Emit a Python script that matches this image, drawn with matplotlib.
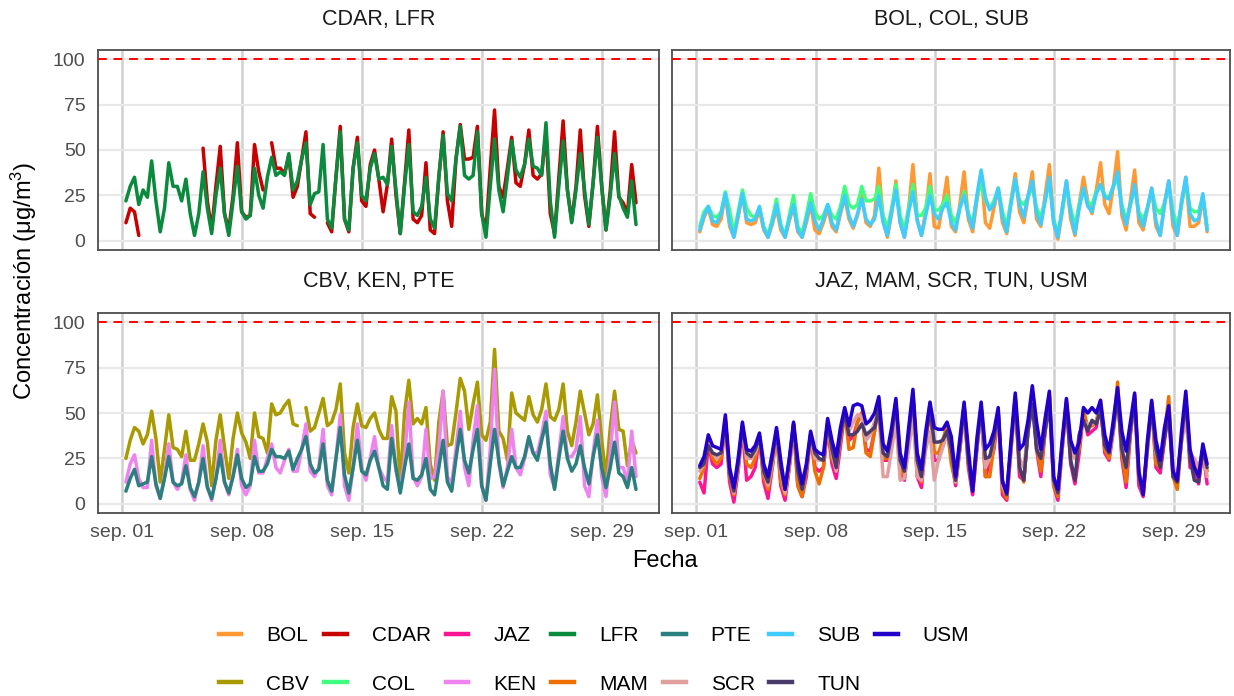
import numpy as np
import pandas as pd
import matplotlib
matplotlib.use("Agg")
import matplotlib.pyplot as plt
from matplotlib.lines import Line2D

plt.rcParams["font.family"] = ["Liberation Sans", "DejaVu Sans"]
plt.rcParams["mathtext.fontset"] = "custom"
plt.rcParams["mathtext.rm"] = "Liberation Sans"
plt.rcParams["mathtext.it"] = "Liberation Sans:italic"

nan = np.nan

# one row per day (sep 01 .. sep 30), values at 05h, 11h, 17h, 23h
CDAR = [[10, 18, 16, 3], [nan, nan, nan, nan], [nan, nan, nan, nan], [nan, nan, nan, nan],
        [nan, nan, 51, 22], [6, 30, 52, 15], [6, 25, 54, 16], [13, 14, 53, 38],
        [28, nan, 54, 40], [40, 37, 47, 24], [30, 45, 60, 15], [13, nan, nan, 10],
        [5, 35, 63, 12], [5, 40, 57, 22], [19, 42, 50, 34], [16, 31, 56, 25],
        [4, 32, 61, 12], [10, 14, 43, 6], [4, 35, 60, 22], [8, 45, 64, 45],
        [45, 46, 63, 15], [6, 40, 72, 30], [24, 40, 57, 32], [30, 42, 61, 36],
        [34, 37, 60, 15], [4, 35, 66, 28], [11, 30, 61, 25], [8, 32, 63, 30],
        [6, 28, 60, 24], [21, 15, 42, 21]]
LFR = [[22, 30, 35, 20], [28, 24, 44, 22], [5, 18, 43, 30], [30, 22, 34, 15],
       [3, 15, 38, 18], [4, 25, 40, 15], [3, 22, 41, 16], [12, 14, 40, 25],
       [18, 35, 46, 36], [38, 36, 48, 28], [33, 45, 54, 20], [26, 27, 53, 12],
       [7, 35, 60, 12], [6, 40, 54, 25], [22, 40, 48, 34], [35, 31, 52, 28],
       [4, 30, 53, 16], [14, 19, 35, 12], [7, 35, 58, 26], [22, 45, 63, 36],
       [34, 36, 60, 15], [2, 30, 56, 28], [16, 35, 55, 39], [35, 42, 56, 41],
       [40, 36, 65, 22], [2, 30, 55, 28], [10, 28, 48, 28], [9, 32, 57, 30],
       [6, 25, 48, 25], [18, 13, 33, 9]]
BOL = [[5, 13, 18, 9], [8, 12, 26, 8], [2, 13, 26, 10], [9, 10, 17, 6],
       [2, 9, 18, 6], [2, 11, 19, 5], [2, 10, 20, 6], [4, 10, 18, 8],
       [5, 15, 24, 12], [7, 14, 25, 10], [8, 14, 40, 12], [2, 15, 33, 10],
       [2, 18, 42, 12], [3, 16, 37, 8], [7, 20, 35, 8], [5, 20, 38, 12],
       [5, 22, 38, 10], [7, 18, 29, 10], [4, 22, 37, 16], [10, 24, 38, 12],
       [8, 25, 42, 10], [1, 16, 33, 12], [3, 20, 35, 22], [15, 28, 43, 20],
       [15, 30, 49, 14], [6, 22, 39, 10], [6, 18, 29, 8], [3, 20, 33, 8],
       [3, 20, 35, 8], [8, 10, 24, 5]]
COL = [[8, 16, 19, 14], [13, 16, 27, 17], [4, 16, 28, 18], [14, 13, 18, 8],
       [3, 12, 23, 9], [3, 14, 25, 8], [4, 14, 26, 16], [12, 14, 20, 14],
       [12, 19, 30, 20], [18, 20, 30, 22], [22, 23, 30, 14], [7, 18, 31, 14],
       [6, 18, 31, 14], [14, 18, 30, 17], [17, 20, 25, 14], [10, 18, 27, 15],
       [10, 24, 32, 22], [18, 22, 29, 16], [8, 22, 34, 22], [20, 24, 30, 18],
       [13, 22, 33, 12], [4, 16, 30, 18], [8, 20, 29, 21], [20, 27, 31, 25],
       [24, 30, 34, 20], [11, 20, 29, 16], [12, 18, 28, 18], [15, 21, 31, 16],
       [8, 20, 32, 18], [16, 16, 25, 8]]
SUB = [[6, 14, 19, 11], [10, 15, 26, 10], [2, 14, 26, 12], [11, 12, 19, 7],
       [2, 10, 20, 8], [2, 12, 20, 6], [2, 12, 21, 11], [6, 12, 20, 10],
       [6, 16, 25, 14], [8, 15, 23, 12], [9, 12, 25, 10], [3, 16, 28, 10],
       [2, 16, 27, 11], [3, 14, 25, 15], [12, 18, 21, 10], [6, 18, 25, 14],
       [7, 25, 39, 24], [17, 20, 29, 13], [5, 20, 34, 20], [13, 25, 33, 15],
       [9, 22, 35, 10], [2, 18, 33, 15], [4, 18, 29, 19], [16, 26, 31, 24],
       [23, 30, 38, 17], [9, 20, 31, 14], [8, 18, 29, 11], [3, 20, 33, 12],
       [3, 22, 35, 15], [11, 12, 26, 6]]
CBV = [[25, 35, 42, 40], [33, 38, 51, 36], [12, 30, 49, 31], [30, 26, 40, 24],
       [24, 33, 44, 34], [10, 35, 49, 31], [14, 36, 50, 39], [34, 25, 50, 37],
       [36, 28, 55, 49], [50, 54, 57, 44], [43, nan, 53, 40], [42, 50, 58, 43],
       [45, 52, 66, 28], [17, 42, 55, 43], [42, 47, 50, 41], [36, 36, 59, 51],
       [11, 50, 68, 44], [47, 44, 53, 22], [13, 45, 62, 32], [33, 50, 69, 62],
       [41, 55, 67, 38], [35, 45, 85, 40], [36, 24, 61, 50], [48, 46, 59, 49],
       [45, 52, 66, 48], [46, 52, 66, 40], [32, 45, 62, 50], [38, 44, 60, 35],
       [15, 42, 62, 41], [40, 21, 35, 28]]
KEN = [[12, 22, 27, 14], [9, 9, 35, 10], [3, 15, 33, 12], [8, 12, 27, 8],
       [2, 12, 32, 10], [2, 14, 35, 12], [5, 16, 30, 10], [5, 10, 35, 17],
       [17, 25, 33, 20], [17, 24, 30, 18], [18, 30, 44, 18], [15, 20, 41, 10],
       [5, 25, 49, 10], [2, 20, 44, 20], [13, 25, 37, 20], [15, 12, 43, 18],
       [8, 25, 56, 15], [10, 15, 41, 14], [15, 30, 62, 15], [11, 30, 51, 20],
       [10, 35, 54, 10], [2, 30, 74, 22], [9, 20, 41, 20], [16, 25, 35, 28],
       [28, 38, 51, 16], [9, 28, 48, 26], [26, 30, 48, 10], [4, 28, 46, 15],
       [4, 28, 56, 20], [20, 12, 40, 15]]
PTE = [[7, 14, 19, 10], [11, 12, 26, 11], [3, 14, 26, 12], [10, 11, 21, 9],
       [4, 12, 25, 9], [3, 14, 27, 12], [6, 15, 27, 14], [9, 11, 26, 18],
       [18, 22, 30, 26], [26, 25, 29, 19], [25, 30, 37, 22], [17, 19, 33, 13],
       [7, 25, 42, 16], [6, 20, 35, 18], [16, 24, 29, 20], [10, 8, 36, 20],
       [6, 20, 33, 14], [13, 16, 25, 8], [5, 20, 35, 12], [7, 25, 41, 24],
       [17, 30, 41, 10], [2, 22, 41, 24], [10, 18, 26, 20], [20, 26, 37, 28],
       [24, 35, 45, 22], [8, 25, 40, 25], [18, 22, 32, 20], [11, 26, 38, 20],
       [9, 20, 34, 17], [15, 9, 20, 8]]
JAZ = [[12, 6, 33, 22], [20, 22, 46, 12], [1, 18, 42, 13], [15, 20, 37, 12],
       [3, 20, 40, 10], [2, 20, 43, 10], [4, 15, 38, 20], [18, 20, 42, 22],
       [14, 32, 50, 35], [37, 45, 50, 30], [29, 40, 56, 24], [24, 35, 55, 18],
       [13, 35, 60, 15], [9, 35, 53, 24], [24, 35, 42, 25], [10, 30, 53, 20],
       [5, 30, 52, 15], [22, 30, 50, 5], [2, 30, 58, 15], [13, 40, 60, 30],
       [15, 40, 60, 10], [2, 30, 55, 22], [11, 28, 50, 38], [40, 42, 55, 28],
       [24, 40, 62, 25], [9, 38, 58, 10], [4, 30, 55, 20], [17, 35, 52, 15],
       [13, 35, 58, 20], [20, 11, 30, 11]]
MAM = [[14, 20, 35, 25], [22, 25, 47, 15], [5, 20, 43, 22], [20, 25, 37, 15],
       [8, 20, 40, 12], [5, 20, 44, 10], [4, 18, 38, 18], [11, 20, 44, 25],
       [20, 35, 51, 30], [31, 45, 50, 28], [26, 40, 57, 25], [25, 35, 56, 20],
       [15, 38, 61, 20], [12, 36, 55, 28], [28, 35, 43, 22], [12, 30, 54, 22],
       [8, 32, 53, 15], [15, 32, 51, 8], [3, 30, 59, 20], [12, 42, 62, 32],
       [18, 40, 61, 10], [4, 32, 57, 30], [25, 30, 52, 42], [43, 45, 57, 30],
       [25, 42, 67, 28], [12, 40, 60, 15], [5, 32, 56, 22], [20, 38, 59, 15],
       [8, 35, 58, 25], [22, 18, 30, 18]]
SCR = [[18, 22, 33, 28], [25, 28, 45, 18], [6, 20, 42, 25], [25, 28, 36, 18],
       [10, 22, 40, 18], [6, 22, 43, 18], [8, 20, 38, 25], [24, 24, 44, 28],
       [18, 38, 50, 40], [45, 49, 48, 35], [38, 45, 50, 15], [15, 30, 45, 13],
       [14, 30, 48, 15], [13, 30, 40, 13], [24, 31, 38, 30], [12, 30, 50, 25],
       [8, 32, 50, 20], [25, 35, 50, 10], [5, 30, 55, 25], [20, 40, 58, 35],
       [25, 40, 58, 12], [6, 30, 54, 30], [25, 38, 45, 44], [44, 45, 52, 32],
       [28, 40, 60, 30], [20, 40, 56, 15], [10, 30, 52, 28], [22, 38, 50, 20],
       [15, 35, 45, 28], [25, 20, 28, 15]]
TUN = [[20, 22, 32, 28], [27, 28, 46, 17], [7, 22, 43, 28], [26, 30, 37, 18],
       [12, 25, 40, 20], [8, 24, 44, 18], [8, 20, 38, 28], [25, 24, 45, 30],
       [20, 38, 50, 38], [38, 40, 44, 38], [40, 42, 52, 28], [26, 38, 56, 24],
       [18, 38, 60, 24], [15, 36, 53, 34], [34, 35, 40, 30], [13, 32, 54, 24],
       [7, 32, 53, 25], [26, 36, 50, 13], [5, 32, 58, 20], [13, 40, 55, 30],
       [25, 40, 55, 13], [6, 32, 55, 24], [13, 38, 46, 40], [46, 44, 52, 32],
       [28, 42, 59, 30], [20, 40, 58, 15], [6, 32, 53, 30], [20, 36, 50, 15],
       [12, 36, 58, 25], [13, 12, 30, 20]]
USM = [[21, 26, 38, 32], [31, 30, 49, 20], [9, 25, 45, 30], [29, 32, 39, 22],
       [15, 28, 42, 24], [8, 25, 45, 24], [11, 22, 40, 30], [28, 27, 47, 35],
       [26, 42, 53, 43], [54, 55, 54, 44], [46, 50, 59, 33], [29, 42, 58, 28],
       [20, 42, 63, 28], [19, 40, 56, 42], [41, 41, 45, 37], [15, 36, 56, 30],
       [7, 36, 56, 30], [33, 40, 53, 12], [6, 35, 61, 30], [33, 46, 65, 45],
       [30, 47, 62, 15], [8, 35, 58, 35], [28, 34, 53, 50], [53, 50, 57, 38],
       [29, 46, 64, 40], [29, 45, 61, 18], [5, 35, 57, 35], [24, 42, 54, 18],
       [13, 40, 62, 30], [20, 15, 33, 22]]

series = {"BOL": BOL, "CBV": CBV, "CDAR": CDAR, "COL": COL, "JAZ": JAZ, "KEN": KEN,
          "LFR": LFR, "MAM": MAM, "PTE": PTE, "SCR": SCR, "SUB": SUB, "TUN": TUN,
          "USM": USM}
colors = {"BOL": "#FF9933", "CBV": "#A89A00", "CDAR": "#C80000", "COL": "#40FF80",
          "JAZ": "#FF1493", "KEN": "#EE82EE", "LFR": "#0A8A3C", "MAM": "#EE7000",
          "PTE": "#2A7F7F", "SCR": "#E0A0A0", "SUB": "#40CCFF", "TUN": "#4B3B6B",
          "USM": "#2200CC"}
panels = [("CDAR, LFR", ["CDAR", "LFR"]),
          ("BOL, COL, SUB", ["BOL", "COL", "SUB"]),
          ("CBV, KEN, PTE", ["CBV", "KEN", "PTE"]),
          ("JAZ, MAM, SCR, TUN, USM", ["JAZ", "MAM", "SCR", "TUN", "USM"])]

times = pd.date_range("2023-09-01 05:00", periods=120, freq="6h")
start = pd.Timestamp("2023-09-01")
tick_days = [0, 7, 14, 21, 28]
tick_pos = [start + pd.Timedelta(days=d) for d in tick_days]
tick_lab = ["sep. 01", "sep. 08", "sep. 15", "sep. 22", "sep. 29"]

W, H = 1234, 696
fig = plt.figure(figsize=(W / 100, H / 100), dpi=100)
boxes = [(98, 50, 659, 250), (672, 50, 1230, 250), (98, 313, 659, 513), (672, 313, 1230, 513)]

for i, ((title, names), (x0, y0, x1, y1)) in enumerate(zip(panels, boxes)):
    ax = fig.add_axes([x0 / W, 1 - y1 / H, (x1 - x0) / W, (y1 - y0) / H])
    for name in names:
        vals = np.array(series[name], dtype=float).ravel()
        ax.plot(times, vals, color=colors[name], lw=2.5, solid_capstyle="round",
                solid_joinstyle="round", zorder=3)
    ax.axhline(100, color="#FF0000", lw=1.4, ls=(0, (4.5, 3.5)), zorder=4)
    ax.set_ylim(-5, 105)
    ax.set_xlim(start - pd.Timedelta(days=1.42), start + pd.Timedelta(days=31.3))
    ax.set_yticks([0, 25, 50, 75, 100])
    ax.set_xticks(tick_pos)
    ax.set_axisbelow(True)
    ax.yaxis.grid(True, color="#E8E8E8", lw=1.6)
    ax.xaxis.grid(True, color="#D0D0D0", lw=1.8)
    ax.tick_params(length=0, labelsize=14, labelcolor="#4D4D4D")
    ax.tick_params(axis="y", pad=9)
    ax.tick_params(axis="x", pad=8)
    if i in (2, 3):
        ax.set_xticklabels(tick_lab)
    else:
        ax.set_xticklabels([])
    if i in (1, 3):
        ax.set_yticklabels([])
    for sp in ax.spines.values():
        sp.set_color("#4D4D4D")
        sp.set_linewidth(1.3)
    ax.text(0.5, 1.155, title, transform=ax.transAxes, ha="center", va="center",
            fontsize=15.5, color="#1A1A1A")

fig.text(24 / W, 1 - 281 / H, r"Concentración ($\mathrm{\mu}$g/m$^3$)", rotation=90,
         ha="center", va="center", fontsize=17)
fig.text(665 / W, 1 - 561 / H, "Fecha", ha="center", va="center", fontsize=17)

order = list(series.keys())
handles = [Line2D([0], [0], color=colors[n], lw=3.2) for n in order]
fig.legend(handles, order, ncol=7, loc="center", bbox_to_anchor=(594 / W, 1 - 660 / H),
           frameon=False, fontsize=15, handlelength=1.1, handletextpad=1.2,
           columnspacing=0.7, labelspacing=1.4)

fig.savefig("out.png", dpi=100)
